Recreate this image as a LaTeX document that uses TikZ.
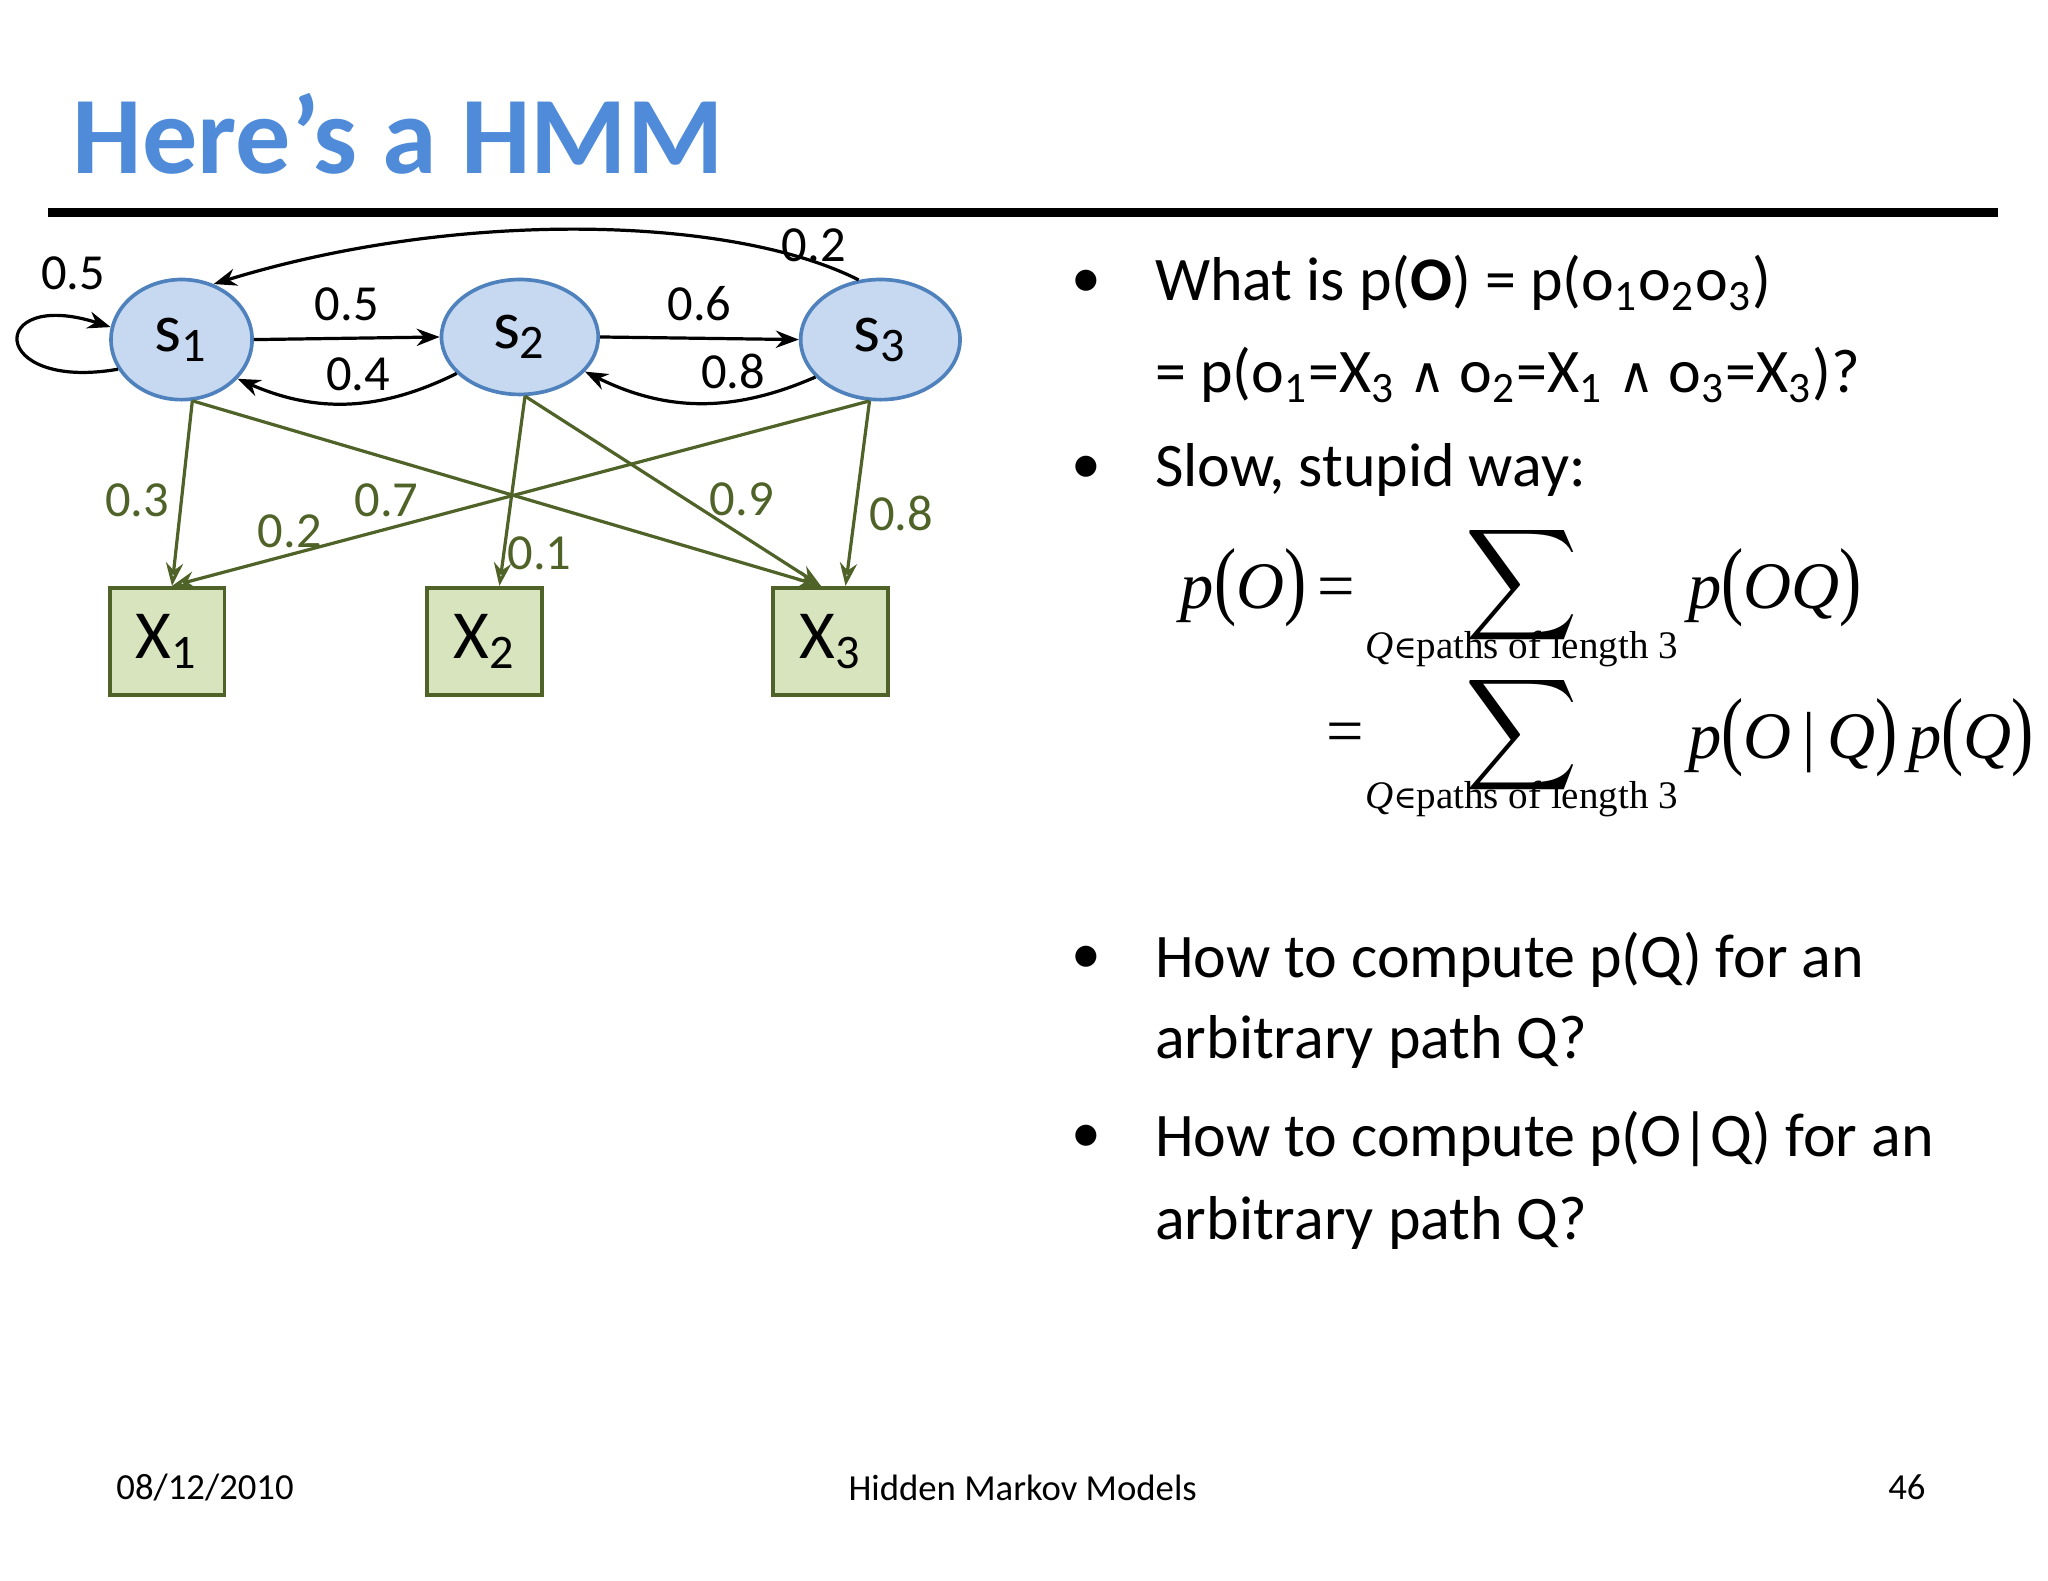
\documentclass[tikz,border=0pt]{standalone}
\usepackage{fontspec}
\usepackage{graphicx}
\setmainfont{Carlito}
\newfontfamily\tms{Liberation Serif}
\newfontfamily\dvs{DejaVu Sans}
\newfontfamily\dvserif{DejaVu Serif}
\usetikzlibrary{shapes.geometric,arrows.meta}
\definecolor{ttl}{RGB}{79,139,216}
\definecolor{sfill}{RGB}{198,217,241}
\definecolor{sdraw}{RGB}{79,129,189}
\definecolor{xfill}{RGB}{215,228,189}
\definecolor{olive}{RGB}{79,98,40}
\newcommand{\sbs}[1]{\textsubscript{#1}}
\newcommand{\myand}{{\dvs\scalebox{0.8}{∧}}}
\tikzset{
 st/.style={ellipse,draw=sdraw,fill=sfill,thick,inner sep=0pt,font=\fontsize{15}{16}\selectfont},
 ob/.style={rectangle,draw=olive,fill=xfill,thick,minimum width=0.88cm,minimum height=0.82cm,font=\fontsize{15}{16}\selectfont},
 tr/.style={-{Stealth[length=5pt]},line width=0.7pt},
 em/.style={-{Stealth[length=5pt,open]},draw=olive,line width=0.7pt},
 lb/.style={font=\fontsize{11}{13}\selectfont},
 gl/.style={font=\fontsize{11}{13}\selectfont,text=olive},
 bt/.style={anchor=west,font=\fontsize{13.5}{15}\selectfont},
 bu/.style={font=\fontsize{13}{15}\selectfont},
 mth/.style={font=\fontsize{14.5}{17}\tms},
 sub/.style={font=\fontsize{8.5}{10}\tms}
}
\begin{document}
\begin{tikzpicture}
\useasboundingbox (0,0) rectangle (15.68,-12.10);
\node[anchor=base west,inner sep=0pt,font=\fontsize{24}{30}\bfseries,text=ttl] (title) at (0.55,-1.33) {Here’s a HMM};
\draw[line width=2pt] (0.37,-1.63) -- (15.30,-1.63);
% states
\node[st,minimum width=1.08cm,minimum height=0.92cm] (s1) at (1.39,-2.60) {s\sbs{1}};
\node[st,minimum width=1.20cm,minimum height=0.88cm] (s2) at (3.98,-2.58) {s\sbs{2}};
\node[st,minimum width=1.22cm,minimum height=0.92cm] (s3) at (6.74,-2.60) {s\sbs{3}};
\node[ob] (x1) at (1.28,-4.91) {X\sbs{1}};
\node[ob] (x2) at (3.71,-4.91) {X\sbs{2}};
\node[ob] (x3) at (6.36,-4.91) {X\sbs{3}};
% transitions
\draw[tr] (s1.east) -- (s2.west) node[lb,midway,above] {0.5};
\draw[tr] (s2.east) -- (s3.west) node[lb,midway,above] {0.6};
\draw[tr] (s2.-150) to[bend left=25] node[lb,pos=0.45,above=-1pt] {0.4} (s1.-35);
\draw[tr] (s3.-150) to[bend left=25] node[lb,pos=0.35,above=-1pt] {0.8} (s2.-28);
\draw[tr] (s3.110) .. controls (5.6,-1.65) and (3.5,-1.6) .. (s1.60);
\node[lb] (l02) at (6.23,-1.88) {0.2};
\draw[tr] (s1.-155) .. controls (-0.1,-3.0) and (-0.1,-2.2) .. (s1.170);
\node[lb] (l05) at (0.56,-2.09) {0.5};
% emissions
\draw[em] (s1.-80) -- (x1.85);
\draw[em] (s1.-80) -- (x3.100);
\draw[em] (s2.-85) -- (x2.75);
\draw[em] (s2.-85) -- (x3.100);
\draw[em] (s3.-100) -- (x1.85);
\draw[em] (s3.-100) -- (x3.75);
\node[gl] at (1.05,-3.83) {0.3};
\node[gl] at (2.22,-4.07) {0.2};
\node[gl] at (2.96,-3.83) {0.7};
\node[gl] at (4.13,-4.24) {0.1};
\node[gl] at (5.68,-3.82) {0.9};
\node[gl] at (6.90,-3.93) {0.8};
% bullets
\foreach \y in {2.17,3.60,7.35,8.72} \node[bu] at (8.32,-\y) {•};
\node[bt] (t1) at (8.72,-2.17) {What is p(\textbf{O}) = p(o\sbs{1}o\sbs{2}o\sbs{3})};
\node[bt] (t2) at (8.72,-2.87) {= p(o\sbs{1}=X\sbs{3} \myand{} o\sbs{2}=X\sbs{1} \myand{} o\sbs{3}=X\sbs{3})?};
\node[bt] (t3) at (8.72,-3.60) {Slow, stupid way:};
\node[bt] (t4) at (8.72,-7.35) {How to compute p(Q) for an};
\node[bt] (t5) at (8.72,-7.98) {arbitrary path Q?};
\node[bt] (t6) at (8.72,-8.72) {How to compute p(O|Q) for an};
\node[bt] (t7) at (8.72,-9.36) {arbitrary path Q?};
% math
\node[anchor=east,mth] (m1) at (10.50,-4.50) {\textit{p}\scalebox{1}[1.3]{(}\textit{O}\scalebox{1}[1.3]{)}\,=};
\node (sg1) at (11.65,-4.48) {\scalebox{1.7}{$\displaystyle\sum$}};
\node[sub] (sb1) at (11.65,-4.97) {\textit{Q}{\dvserif\scalebox{0.8}{∈}}paths of length 3};
\node[anchor=west,mth] (m2) at (12.80,-4.50) {\textit{p}\scalebox{1}[1.3]{(}\textit{OQ}\scalebox{1}[1.3]{)}};
\node[mth] (m3) at (10.30,-5.65) {=};
\node (sg2) at (11.65,-5.63) {\scalebox{1.7}{$\displaystyle\sum$}};
\node[sub] (sb2) at (11.65,-6.12) {\textit{Q}{\dvserif\scalebox{0.8}{∈}}paths of length 3};
\node[anchor=west,mth] (m4) at (12.80,-5.65) {\textit{p}\scalebox{1}[1.3]{(}\textit{O}\,|\,\textit{Q}\scalebox{1}[1.3]{)}\,\textit{p}\scalebox{1}[1.3]{(}\textit{Q}\scalebox{1}[1.3]{)}};
% footer
\node[font=\fontsize{8}{10}\selectfont] (f1) at (1.57,-11.39) {08/12/2010};
\node[font=\fontsize{8}{10}\selectfont] (f2) at (7.83,-11.39) {Hidden Markov Models};
\node[font=\fontsize{8}{10}\selectfont] (f3) at (14.60,-11.39) {46};
\end{tikzpicture}
\end{document}
